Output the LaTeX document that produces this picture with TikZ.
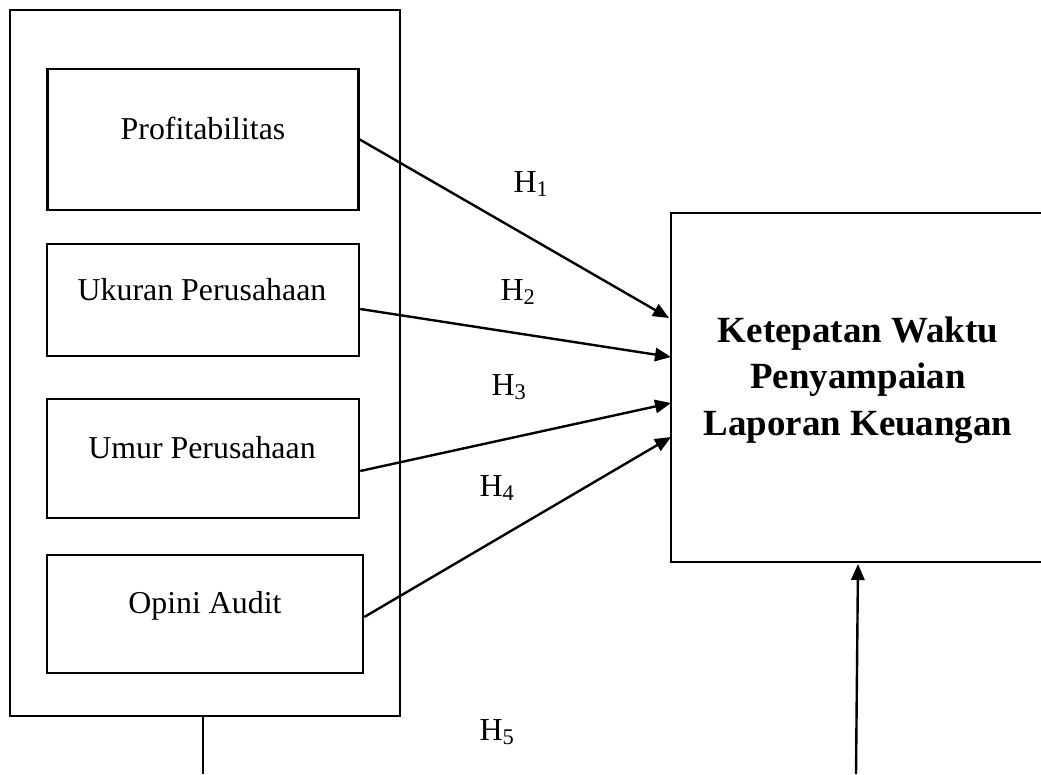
\documentclass[tikz,border=0pt]{standalone}
\usepackage{fontspec}
\setmainfont{Liberation Serif}
\usetikzlibrary{arrows.meta}
\begin{document}
\begin{tikzpicture}[x=0.75pt,y=-0.75pt,
  boxline/.style={draw=black,line width=1.9pt,rectangle,inner sep=0pt},
  lbl/.style={anchor=base,inner sep=0pt,font=\fontsize{23.9}{28}\selectfont},
  hlbl/.style={anchor=base,inner sep=0pt,font=\fontsize{24}{28}\selectfont},
  big/.style={anchor=base,inner sep=0pt,font=\bfseries\fontsize{27.7}{33}\selectfont},
  conn/.style={line width=1.8pt,-{Triangle[length=12pt,width=10pt]}}]
\useasboundingbox (0,0) rectangle (1041,774);
% outer box
\node[boxline,minimum width=390*0.75pt,minimum height=706*0.75pt] (outer) at (205,363) {};
% inner boxes
\node[boxline,minimum width=311*0.75pt,minimum height=141*0.75pt] (p) at (203,139.5) {};
\node[boxline,minimum width=312*0.75pt,minimum height=112*0.75pt] (u) at (203,300) {};
\node[boxline,minimum width=312*0.75pt,minimum height=119*0.75pt] (m) at (203,458.5) {};
\node[boxline,minimum width=316*0.75pt,minimum height=118*0.75pt] (o) at (205,614) {};
\node[lbl] (tp) at (203,139) {Profitabilitas};
\node[lbl] (tu) at (202,300) {Ukuran Perusahaan};
\node[lbl] (tm) at (202,458) {Umur Perusahaan};
\node[lbl] (to) at (205,613) {Opini Audit};
% right box
\node[boxline,minimum width=380*0.75pt,minimum height=349*0.75pt] (k) at (861,387.5) {};
\node[big] (k1) at (858,342) {Ketepatan Waktu};
\node[big] (k2) at (858,388) {Penyampaian};
\node[big] (k3) at (858,435) {Laporan Keuangan};
% arrow targets
\coordinate (a1) at (669,318);
\coordinate (a2) at (671,357);
\coordinate (a3) at (671,403);
\coordinate (a4) at (671,437);
\coordinate (a5) at (858,564);
\coordinate (b5) at (856,774);
\coordinate (b0) at (203,774);
\draw[conn] (p.east) -- (a1);
\draw[conn] ([yshift=-9*0.75pt]u.east) -- (a2);
\draw[conn] ([yshift=-12.5*0.75pt]m.east) -- (a3);
\draw[conn] ([yshift=-3*0.75pt]o.east) -- (a4);
\draw[conn] (b5) -- (a5);
\draw[line width=0.8pt] (outer.south -| b0) -- (b0);
% labels
\node[hlbl] (h1) at (531,192) {H\textsubscript{1}};
\node[hlbl] (h2) at (518,300) {H\textsubscript{2}};
\node[hlbl] (h3) at (509,395) {H\textsubscript{3}};
\node[hlbl] (h4) at (497,496) {H\textsubscript{4}};
\node[hlbl] (h5) at (497,740) {H\textsubscript{5}};
\end{tikzpicture}
\end{document}
